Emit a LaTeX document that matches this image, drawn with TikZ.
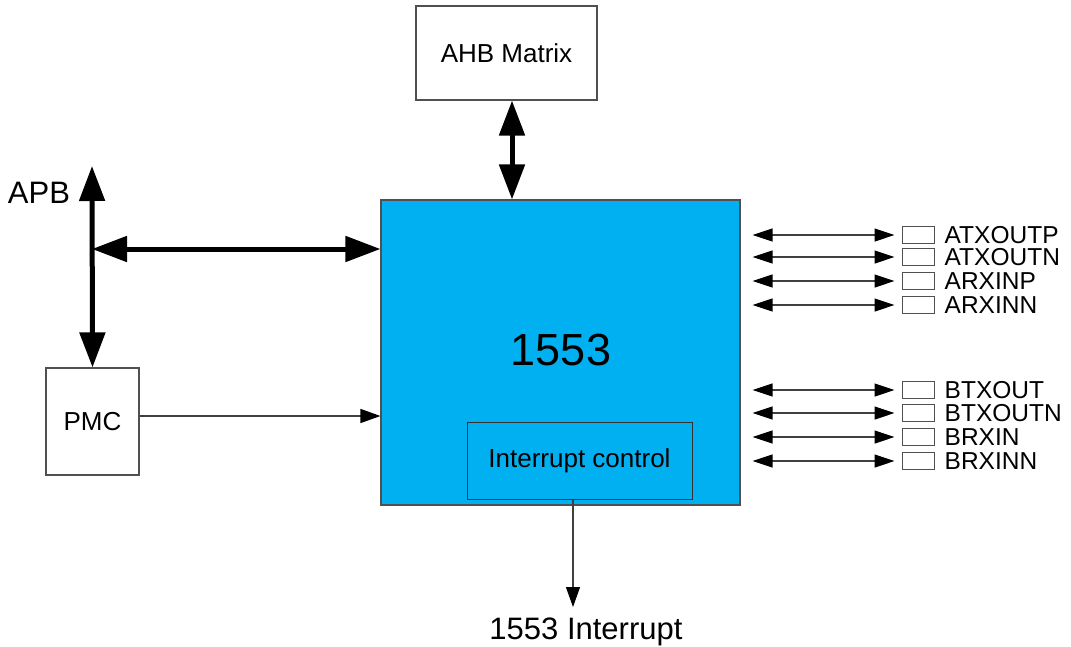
\documentclass[tikz,border=0pt]{standalone}
\usepackage{fontspec}
\setmainfont{Liberation Sans}
\usepackage{xcolor}
\usetikzlibrary{arrows.meta,positioning}
\definecolor{chipblue}{RGB}{0,176,240}
\definecolor{edgegray}{RGB}{80,80,80}

\begin{document}
\begin{tikzpicture}[
  x=1pt,y=-1pt,
  every node/.style={font=\fontsize{26}{30}\selectfont,align=center},
  block/.style={draw=edgegray,line width=1.1pt,fill=white,inner sep=0pt},
  core/.style={block,fill=chipblue},
  pin/.style={draw=edgegray,line width=1pt,fill=white,inner sep=0pt,
              minimum width=32pt,minimum height=17pt},
  pinname/.style={right=10pt of #1,inner sep=0pt,text height=17pt,text depth=0pt,
                  font=\fontsize{24.5}{28}\selectfont},
  bus/.style={{Triangle[length=35pt,width=25pt]}-{Triangle[length=35pt,width=25pt]},
              line width=5pt},
  signal/.style={{Triangle[length=20pt,width=13pt,color=black]}-{Triangle[length=20pt,width=13pt,color=black]},
                 line width=1.2pt,draw=black!75},
  wire/.style={-{Triangle[length=20pt,width=14pt,color=black]},line width=1.2pt,draw=black!75}
]
\useasboundingbox (0,0) rectangle (1071,646);
\node[block,minimum width=181pt,minimum height=94pt] (ahb) at (506.5,53)
  {AHB Matrix};
\node[core,minimum width=359pt,minimum height=305pt] (main) at (560.5,352.5) {};
\node[font=\fontsize{45}{50}\selectfont] (title) at (561,350) {1553};
\node[draw=black!80,line width=1pt,inner sep=0pt,
      minimum width=225pt,minimum height=77pt] (intc) at (579.5,460.5)
  {Interrupt control};
\node[block,minimum width=93pt,minimum height=107pt] (pmc) at (92.5,421.5) {PMC};
\node[font=\fontsize{31}{36}\selectfont] (apb) at (39,193) {APB};
\coordinate (apbtop) at (92,166);
\coordinate (apbjoin) at (92,249);
\coordinate (intend) at (573,607);
\node[font=\fontsize{31}{36}\selectfont] (intname) at (586,632) {1553 Interrupt};

% A channel pins
\node[pin] (atxp) at (918,235) {};
\node[pinname=atxp] (atxpname) {ATXOUTP};
\node[pin] (atxn) at (918,257) {};
\node[pinname=atxn] (atxnname) {ATXOUTN};
\node[pin] (arxp) at (918,281) {};
\node[pinname=arxp] (arxpname) {ARXINP};
\node[pin] (arxn) at (918,305) {};
\node[pinname=arxn] (arxnname) {ARXINN};
% B channel pins
\node[pin] (btxp) at (918,390) {};
\node[pinname=btxp] (btxpname) {BTXOUT};
\node[pin] (btxn) at (918,413) {};
\node[pinname=btxn] (btxnname) {BTXOUTN};
\node[pin] (brxp) at (918,437) {};
\node[pinname=brxp] (brxpname) {BRXIN};
\node[pin] (brxn) at (918,461) {};
\node[pinname=brxn] (brxnname) {BRXINN};

\draw[bus] ([xshift=5.5pt]ahb.south) -- ([xshift=5.5pt]ahb.south |- main.north);
\draw[bus] (apbtop) -- (pmc.north);
\draw[bus] (apbjoin) -- (apbjoin -| main.west);
\draw[wire] ([yshift=5.5pt]pmc.east) -- ([yshift=5.5pt]pmc.east -| main.west);
\draw[wire] ([xshift=-6.5pt]intc.south) -- (intend);
\draw[signal] ([xshift=12pt]main.east |- atxp.west) -- ([xshift=-7pt]atxp.west);
\draw[signal] ([xshift=12pt]main.east |- atxn.west) -- ([xshift=-7pt]atxn.west);
\draw[signal] ([xshift=12pt]main.east |- arxp.west) -- ([xshift=-7pt]arxp.west);
\draw[signal] ([xshift=12pt]main.east |- arxn.west) -- ([xshift=-7pt]arxn.west);
\draw[signal] ([xshift=12pt]main.east |- btxp.west) -- ([xshift=-7pt]btxp.west);
\draw[signal] ([xshift=12pt]main.east |- btxn.west) -- ([xshift=-7pt]btxn.west);
\draw[signal] ([xshift=12pt]main.east |- brxp.west) -- ([xshift=-7pt]brxp.west);
\draw[signal] ([xshift=12pt]main.east |- brxn.west) -- ([xshift=-7pt]brxn.west);
\end{tikzpicture}
\end{document}
